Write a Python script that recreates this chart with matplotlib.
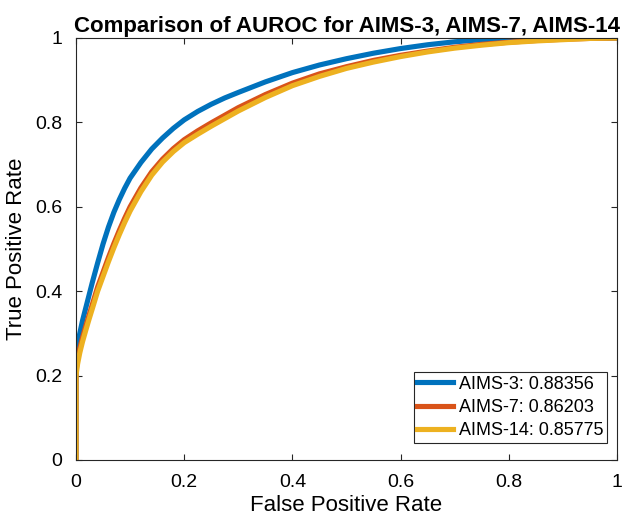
import matplotlib
matplotlib.use("Agg")
import matplotlib.pyplot as plt

plt.rcParams['font.family'] = ['Liberation Sans', 'DejaVu Sans']

### Data
fpr_3 = [0, 0, 0.003, 0.007, 0.012, 0.018, 0.024, 0.030, 0.040, 0.050, 0.060, 0.070, 0.080,
         0.090, 0.100, 0.120, 0.140, 0.160, 0.180, 0.200, 0.225, 0.250, 0.275, 0.300, 0.350,
         0.400, 0.450, 0.500, 0.550, 0.600, 0.650, 0.700, 0.750, 0.800, 0.900, 1.0]
tpr_3 = [0, 0.25, 0.275, 0.300, 0.330, 0.360, 0.390, 0.420, 0.467, 0.512, 0.552, 0.587, 0.617,
         0.644, 0.668, 0.705, 0.737, 0.763, 0.786, 0.806, 0.826, 0.843, 0.858, 0.871, 0.896,
         0.918, 0.936, 0.951, 0.964, 0.975, 0.984, 0.991, 0.996, 0.999, 1.0, 1.0]

fpr_7 = [0, 0, 0.003, 0.007, 0.012, 0.018, 0.024, 0.031, 0.040, 0.050, 0.060, 0.070, 0.080,
         0.090, 0.100, 0.120, 0.140, 0.160, 0.180, 0.200, 0.225, 0.250, 0.275, 0.300, 0.350,
         0.400, 0.450, 0.500, 0.550, 0.600, 0.650, 0.700, 0.750, 0.800, 0.850, 0.900, 0.950, 1.0]
tpr_7 = [0, 0.21, 0.240, 0.265, 0.290, 0.317, 0.343, 0.372, 0.410, 0.445, 0.480, 0.513, 0.544,
         0.573, 0.600, 0.645, 0.683, 0.713, 0.738, 0.759, 0.780, 0.799, 0.817, 0.835, 0.866,
         0.893, 0.915, 0.932, 0.947, 0.959, 0.969, 0.978, 0.985, 0.990, 0.994, 0.997, 0.999, 1.0]

fpr_14 = [0, 0, 0.003, 0.007, 0.012, 0.018, 0.024, 0.031, 0.040, 0.050, 0.060, 0.070, 0.080,
          0.090, 0.100, 0.120, 0.140, 0.160, 0.180, 0.200, 0.225, 0.250, 0.275, 0.300, 0.350,
          0.400, 0.450, 0.500, 0.550, 0.600, 0.650, 0.700, 0.750, 0.800, 0.850, 0.900, 0.950, 1.0]
tpr_14 = [0, 0.20, 0.228, 0.254, 0.280, 0.307, 0.333, 0.362, 0.400, 0.435, 0.470, 0.503, 0.534,
          0.563, 0.590, 0.636, 0.675, 0.706, 0.731, 0.752, 0.772, 0.791, 0.809, 0.827, 0.859,
          0.887, 0.909, 0.928, 0.943, 0.956, 0.967, 0.976, 0.983, 0.989, 0.993, 0.996, 0.999, 1.0]

labels = ['AIMS-3: 0.88356', 'AIMS-7: 0.86203', 'AIMS-14: 0.85775']
ticks = [0, 0.2, 0.4, 0.6, 0.8, 1]
tick_labels = ['0', '0.2', '0.4', '0.6', '0.8', '1']

### Plot
fig = plt.figure(figsize=(6.22, 5.21), dpi=100)
ax = fig.add_axes([76/622, 61/521, 541/622, 422/521])

ax.plot(fpr_3, tpr_3, color='#0072BD', linewidth=3.7, label=labels[0], solid_joinstyle='round')
ax.plot(fpr_7, tpr_7, color='#D95319', linewidth=3.7, label=labels[1], solid_joinstyle='round')
ax.plot(fpr_14, tpr_14, color='#EDB120', linewidth=3.7, label=labels[2], solid_joinstyle='round')

ax.set_xlim(0, 1)
ax.set_ylim(0, 1)
ax.set_xticks(ticks)
ax.set_xticklabels(tick_labels)
ax.set_yticks(ticks)
ax.set_yticklabels(tick_labels)
ax.tick_params(direction='in', length=4, width=0.8, top=True, right=True,
               labelsize=14, pad=10, colors='#262626', labelcolor='black')
for s in ax.spines.values():
    s.set_color('#262626')
    s.set_linewidth(0.8)

ax.set_xlabel('False Positive Rate', fontsize=16, labelpad=3)
ax.set_ylabel('True Positive Rate', fontsize=16, labelpad=6)
ax.set_title('Comparison of AUROC for AIMS-3, AIMS-7, AIMS-14', fontsize=16,
             fontweight='bold', pad=4)

leg = ax.legend(loc='lower right', bbox_to_anchor=(531/541, 17/422), borderaxespad=0,
                fontsize=13, handlelength=2.0, handletextpad=0.3, labelspacing=0.35,
                borderpad=0.2, fancybox=False, framealpha=1)
leg.get_frame().set_edgecolor('#262626')
leg.get_frame().set_linewidth(0.8)

fig.savefig('out.png', dpi=100)
